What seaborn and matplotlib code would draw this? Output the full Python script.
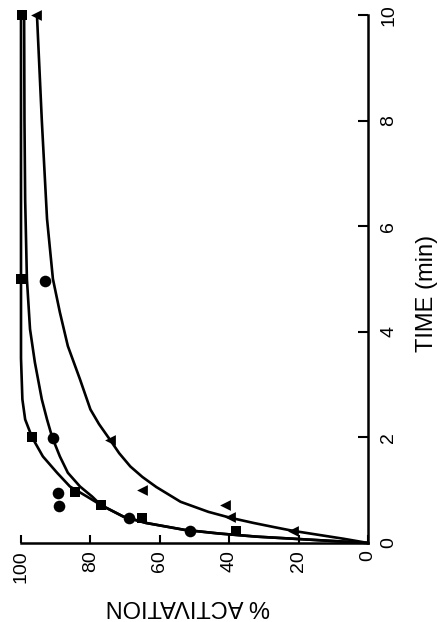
import matplotlib
matplotlib.use("Agg")
import matplotlib.pyplot as plt
import seaborn as sns
import pandas as pd

sns.set_theme(style="ticks")
plt.rcParams['font.family'] = ['Liberation Sans', 'DejaVu Sans']

# ---- data (time in min, % activation) ----
sq_time = [0.23, 0.48, 0.72, 0.96, 2.0, 5.0, 10.0]
sq_act = [38, 65, 77, 84.4, 96.8, 100, 99.7]

ci_time = [0.23, 0.48, 0.70, 0.95, 1.98, 4.96]
ci_act = [51.3, 69, 89, 89.3, 90.8, 93]

tr_time = [0.23, 0.49, 0.72, 1.0, 1.96, 10.0]
tr_act = [21.6, 39.8, 41.2, 65, 74.4, 95.7]

curve_a_time = [0, 0.06, 0.12, 0.18, 0.25, 0.38, 0.5, 0.72, 0.88, 1.07, 1.33, 1.64,
                2.0, 2.34, 2.72, 3.5, 5.0, 7.5, 10.0]
curve_a_act = [0, 16, 32, 43, 53, 64, 70.5, 77, 81, 85.9, 89.6, 93.7,
               96.8, 98.8, 99.6, 100, 100, 100, 100]

curve_b_time = [0, 0.06, 0.12, 0.18, 0.25, 0.38, 0.5, 0.72, 0.88, 1.07, 1.33, 1.64,
                2.0, 2.34, 2.72, 3.42, 4.05, 5.0, 6.5, 8.0, 10.0]
curve_b_act = [0, 16, 32, 43, 53, 64, 70.5, 77, 79.5, 83, 86.5, 88.8,
               91, 92.5, 94, 96, 97.4, 98.3, 98.8, 99.0, 99.1]

curve_c_time = [0, 0.08, 0.23, 0.30, 0.38, 0.48, 0.59, 0.78, 1.06, 1.25, 1.45, 1.7,
                1.96, 2.25, 2.53, 3.1, 3.73, 4.37, 5.0, 6.14, 8.0, 10.0]
curve_c_act = [0, 7, 21.6, 27, 33, 39.8, 46, 54, 61, 65, 68.5, 71.7,
               74.4, 77.5, 80, 83, 86.5, 88.8, 90.8, 92.5, 94.0, 95.4]

act_ticks = [100, 80, 60, 40, 20, 0]
time_ticks = [0, 2, 4, 6, 8, 10]

# ---- figure ----
fig = plt.figure(figsize=(4.39, 6.22), dpi=100)
ax = fig.add_axes([21 / 439, (622 - 543) / 622, 347 / 439, 528 / 622])
ax.set_facecolor("white")

for t, a in [(curve_a_time, curve_a_act), (curve_b_time, curve_b_act), (curve_c_time, curve_c_act)]:
    df = pd.DataFrame({"act": a, "time": t})
    sns.lineplot(data=df, x="act", y="time", sort=False, estimator=None,
                 color="black", linewidth=1.9, ax=ax, clip_on=False)

sns.scatterplot(x=sq_act, y=sq_time, marker="s", s=60, color="black",
                edgecolor="black", linewidth=0, ax=ax, clip_on=False, zorder=5)
sns.scatterplot(x=ci_act, y=ci_time, marker="o", s=70, color="black",
                edgecolor="black", linewidth=0, ax=ax, clip_on=False, zorder=5)
sns.scatterplot(x=tr_act, y=tr_time, marker="<", s=60, color="black",
                edgecolor="black", linewidth=0, ax=ax, clip_on=False, zorder=5)

ax.set_xlim(100, 0)
ax.set_ylim(0, 10)
ax.set_xticks(act_ticks)
ax.set_xticklabels([str(v) for v in act_ticks])
ax.set_yticks(time_ticks)
ax.set_yticklabels([str(v) for v in time_ticks])

ax.spines["left"].set_visible(False)
ax.spines["top"].set_visible(False)
for s in ("bottom", "right"):
    ax.spines[s].set_linewidth(1.8)
    ax.spines[s].set_color("black")

ax.yaxis.tick_right()
ax.yaxis.set_label_position("right")
ax.tick_params(axis="x", direction="in", length=6, width=1.5, pad=5,
               labelsize=14, labelrotation=90, colors="black", bottom=True, top=False)
ax.tick_params(axis="y", direction="in", length=7, width=1.5, pad=9,
               labelsize=14, labelrotation=90, colors="black", right=True, left=False)
for lab in ax.get_yticklabels():
    lab.set_va("center")

ax.set_xlabel("% ACTIVATION", fontsize=17, rotation=180, color="black")
ax.xaxis.label.set_va("center")
ax.xaxis.set_label_coords((188 - 21) / 347, (543 - 606) / 528)

ax.set_ylabel("TIME (min)", fontsize=17, rotation=90, color="black")
ax.yaxis.label.set_va("center")
ax.yaxis.set_label_coords((427 - 21) / 347, (543 - 293) / 528)

ax.grid(False)
fig.savefig("out.png", dpi=100, facecolor="white")
